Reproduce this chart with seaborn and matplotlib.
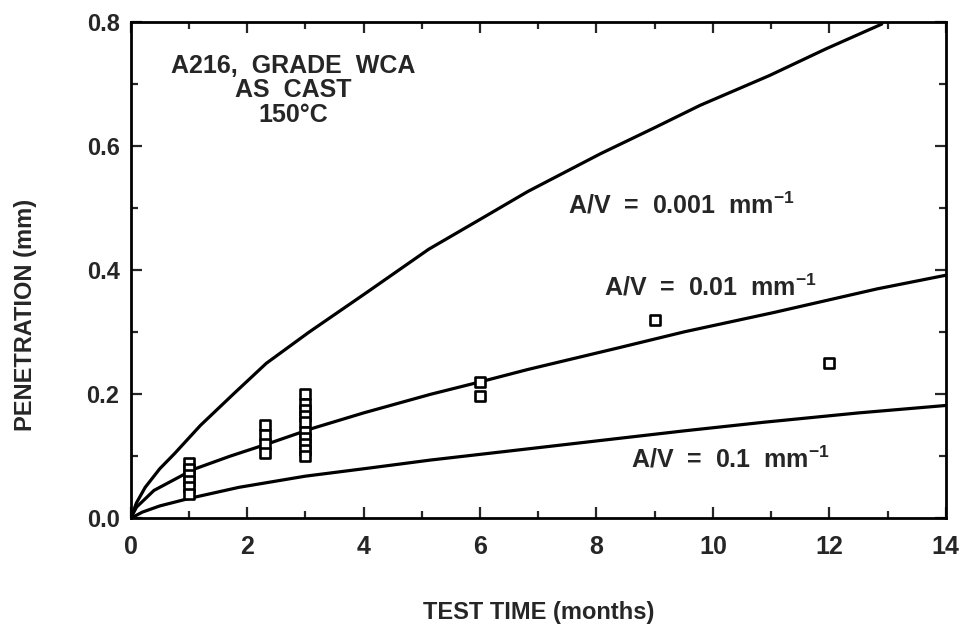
import numpy as np
import pandas as pd
import matplotlib
matplotlib.use("Agg")
import matplotlib.pyplot as plt
import seaborn as sns
from matplotlib.ticker import MultipleLocator, FormatStrFormatter

# curves (months, mm)
t_001 = [0, 0.1, 0.25, 0.5, 0.75, 1.2, 1.76, 2.33, 3.06, 4.02, 5.12, 6.0, 6.82, 8.07, 9.0, 9.78, 10.97, 11.94, 12.9]
p_001 = [0, 0.025, 0.05, 0.08, 0.104, 0.15, 0.2, 0.25, 0.30, 0.362, 0.434, 0.482, 0.527, 0.588, 0.63, 0.666, 0.714, 0.757, 0.797]

t_01 = [0, 0.1, 0.4, 1.08, 1.7, 2.38, 3.12, 4.0, 5.15, 6.0, 6.82, 8.38, 9.52, 11.05, 12.82, 14.0]
p_01 = [0, 0.018, 0.045, 0.079, 0.1, 0.121, 0.145, 0.17, 0.2, 0.22, 0.24, 0.275, 0.301, 0.332, 0.37, 0.392]

t_1 = [0, 0.2, 0.5, 1.0, 1.86, 3.0, 4.09, 5.15, 6.82, 8.02, 9.5, 10.88, 12.5, 14.0]
p_1 = [0, 0.01, 0.02, 0.032, 0.05, 0.068, 0.081, 0.094, 0.112, 0.125, 0.141, 0.155, 0.17, 0.182]

# measured penetration
obs_t = [1, 1, 1, 1, 1, 1,
         2.3, 2.3, 2.3, 2.3,
         3, 3, 3, 3, 3, 3, 3, 3, 3, 3,
         6, 6, 9, 12]
obs_p = [0.09, 0.08, 0.07, 0.06, 0.05, 0.04,
         0.15, 0.135, 0.12, 0.105,
         0.20, 0.185, 0.175, 0.165, 0.155, 0.14, 0.13, 0.12, 0.11, 0.10,
         0.22, 0.197, 0.32, 0.25]

sns.set_style("ticks")
plt.rcParams['font.family'] = ['Liberation Sans', 'DejaVu Sans']
plt.rcParams['font.weight'] = 'bold'
plt.rcParams['mathtext.fontset'] = 'custom'
plt.rcParams['mathtext.rm'] = 'Liberation Sans:bold'
plt.rcParams['mathtext.bf'] = 'Liberation Sans:bold'

fig = plt.figure(figsize=(9.75, 6.36), dpi=100)
ax = fig.add_axes([0.134, 0.185, 0.836, 0.78])

for t, p in [(t_001, p_001), (t_01, p_01), (t_1, p_1)]:
    df = pd.DataFrame({"t": t, "p": p})
    sns.lineplot(data=df, x="t", y="p", ax=ax, color="black", linewidth=2.3, estimator=None, sort=False)

obs = pd.DataFrame({"t": obs_t, "p": obs_p})
sns.scatterplot(data=obs, x="t", y="p", ax=ax, marker="s", s=42, facecolor="white",
                edgecolor="black", linewidth=1.9, zorder=3)

ax.set_xlim(0, 14)
ax.set_ylim(0, 0.8)
ax.xaxis.set_major_locator(MultipleLocator(2))
ax.xaxis.set_minor_locator(MultipleLocator(1))
ax.yaxis.set_major_locator(MultipleLocator(0.2))
ax.yaxis.set_minor_locator(MultipleLocator(0.1))
ax.yaxis.set_major_formatter(FormatStrFormatter('%.1f'))
ax.tick_params(which='both', direction='in', top=True, right=True, width=1.6)
ax.tick_params(which='major', length=8)
ax.tick_params(which='minor', length=5)
ax.tick_params(axis='y', labelsize=17, pad=8)
ax.tick_params(axis='x', labelsize=18, pad=12)
for s in ax.spines.values():
    s.set_linewidth(2)
    s.set_color("black")

ax.set_xlabel("TEST TIME (months)", fontsize=17, fontweight='bold', labelpad=30)
ax.set_ylabel("PENETRATION (mm)", fontsize=17, fontweight='bold')
ax.yaxis.set_label_coords(-0.115, 0.41)

ax.text(2.8, 0.69, "A216,  GRADE  WCA\nAS  CAST\n150°C", ha='center', va='center',
        fontsize=18, fontweight='bold', linespacing=1.05)
ax.text(9.45, 0.505, "A/V  =  0.001  mm$^{-1}$", ha='center', va='center', fontsize=18, fontweight='bold')
ax.text(9.95, 0.372, "A/V  =  0.01  mm$^{-1}$", ha='center', va='center', fontsize=18, fontweight='bold')
ax.text(10.3, 0.096, "A/V  =  0.1  mm$^{-1}$", ha='center', va='center', fontsize=18, fontweight='bold')

fig.savefig("out.png", dpi=100)
